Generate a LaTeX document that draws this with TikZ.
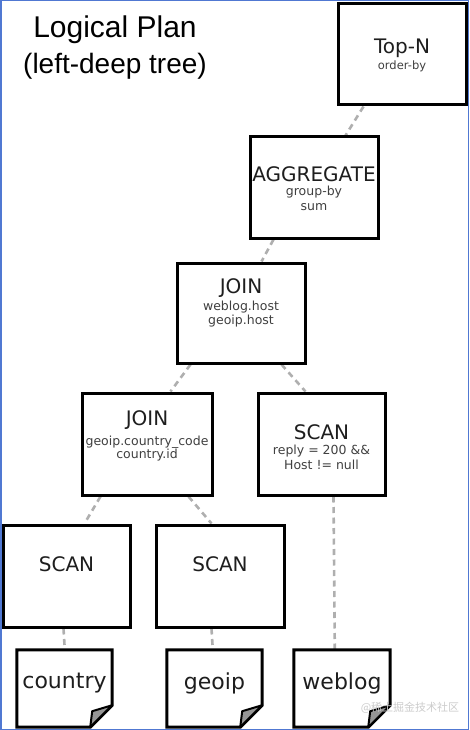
\documentclass[tikz,border=0pt]{standalone}
\usepackage{fontspec}
\setmainfont{DejaVu Sans}
\newfontfamily\titlefont{Liberation Sans}
\newfontfamily\cjkfont{Noto Sans CJK SC}
\usetikzlibrary{backgrounds}
\definecolor{framecol}{RGB}{80,120,210}
\definecolor{linkcol}{RGB}{175,175,175}
\definecolor{txtcol}{RGB}{30,30,30}
\definecolor{foldcol}{RGB}{150,150,150}
\begin{document}
\begin{tikzpicture}[x=1pt,y=-1pt,
  opbox/.style={draw=black, line width=3pt, minimum width=128pt, minimum height=101pt, inner sep=0pt, fill=white},
  docbox/.style={draw=none, minimum width=95pt, minimum height=77pt, inner sep=0pt},
  link/.style={draw=linkcol, line width=2.6pt, dash pattern=on 6pt off 4.5pt},
  head/.style={font=\fontsize{20}{23}\selectfont, text=txtcol, inner sep=0pt},
  sub/.style={font=\fontsize{12.5}{14}\selectfont, text=txtcol!85, inner sep=0pt},
  docline/.style={draw=black, line width=3pt, fill=white, line join=miter},
  fold/.style={draw=black, line width=2pt, fill=foldcol, line join=round},
  doctext/.style={font=\fontsize{22}{26}\selectfont, text=txtcol, inner sep=0pt},
  titletext/.style={font=\titlefont\fontsize{28}{32}\selectfont, text=black, inner sep=0pt}]
\useasboundingbox (0,0) rectangle (469,730);

% title
\node[titletext, font=\titlefont\fontsize{30}{34}\selectfont] (title1) at (115,30) {Logical Plan};
\node[titletext] (title2) at (115,66) {(left-deep tree)};

% operator boxes
\node[opbox] (topn) at (402,54.5) {};
\node[opbox] (agg) at (314,187.5) {};
\node[opbox, minimum height=100pt] (join1) at (241,313) {};
\node[opbox, minimum width=130pt, minimum height=102pt] (join2) at (147,444) {};
\node[opbox, minimum width=127pt, minimum height=102pt] (scan3) at (321.5,444) {};
\node[opbox, minimum width=127pt, minimum height=102pt] (scan1) at (66.5,576) {};
\node[opbox, minimum height=102pt] (scan2) at (220,576) {};

% documents
\node[docbox] (country) at (64.5,688.5) {};
\node[docbox] (geoip) at (214.5,688.5) {};
\node[docbox, minimum width=96pt] (weblog) at (342,688.5) {};
\foreach \d in {country,geoip,weblog}{
  \draw[docline] (\d.north west) -- (\d.north east) -- ([yshift=22pt]\d.south east)
     -- ([xshift=-22pt]\d.south east) -- (\d.south west) -- cycle;
  \draw[fold] ([yshift=22pt]\d.south east) -- ([xshift=-20pt,yshift=16pt]\d.south east)
     -- ([xshift=-22pt]\d.south east) -- cycle;
}

% texts
\node[head] (topnT) at (402,48) {Top-N};
\node[sub, font=\fontsize{11.5}{13}\selectfont] (topnS) at (402,66) {order-by};
\node[head] (aggT) at (314,174) {AGGREGATE};
\node[sub] (aggS1) at (314,192) {group-by};
\node[sub] (aggS2) at (314,207) {sum};
\node[head] (join1T) at (241,288) {JOIN};
\node[sub] (join1S1) at (241,307) {weblog.host};
\node[sub] (join1S2) at (241,321) {geoip.host};
\node[head] (join2T) at (147,420) {JOIN};
\node[sub] (join2S1) at (147,442) {geoip.country\_code};
\node[sub] (join2S2) at (147,455) {country.id};
\node[head] (scan3T) at (321.5,432) {SCAN};
\node[sub] (scan3S1) at (321.5,451) {reply = 200 \&\&};
\node[sub] (scan3S2) at (321.5,465) {Host != null};
\node[head] (scan1T) at (66.5,564) {SCAN};
\node[head] (scan2T) at (220,564) {SCAN};
\node[doctext] (countryT) at (64.5,683) {country};
\node[doctext] (geoipT) at (214.5,683) {geoip};
\node[doctext] (weblogT) at (342,683) {weblog};

% watermark
\node[font=\cjkfont\fontsize{11}{13}\selectfont, text=black!20, inner sep=0pt] (wm) at (410,708) {@稀土掘金技术社区};

\begin{scope}[on background layer]
  \draw[framecol, line width=1.5pt] (0.75,0.75) rectangle (468.25,729.25);
  \draw[link] ([xshift=27pt]topn.south west) -- ([xshift=97pt]agg.north west);
  \draw[link] ([xshift=25pt]agg.south west) -- ([xshift=86pt]join1.north west);
  \draw[link] ([xshift=15pt]join1.south west) -- ([xshift=90pt]join2.north west);
  \draw[link] ([xshift=106pt]join1.south west) -- ([xshift=49pt]scan3.north west);
  \draw[link] ([xshift=20pt]join2.south west) -- ([xshift=83pt]scan1.north west);
  \draw[link] ([xshift=108pt]join2.south west) -- ([xshift=57pt]scan2.north west);
  \draw[link] ([xshift=77pt]scan3.south west) -- ([xshift=41pt]weblog.north west);
  \draw[link] ([xshift=62pt]scan1.south west) -- ([xshift=48pt]country.north west);
  \draw[link] ([xshift=57pt]scan2.south west) -- ([xshift=46pt]geoip.north west);
\end{scope}
\end{tikzpicture}
\end{document}
